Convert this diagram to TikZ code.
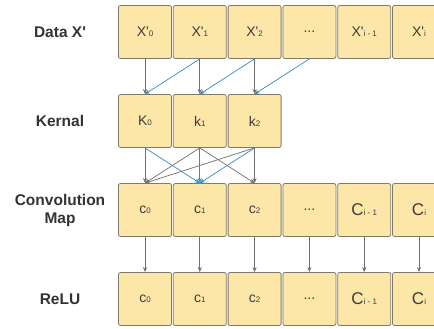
\documentclass[tikz,border=0pt]{standalone}
\usepackage{fontspec}
\setmainfont{Liberation Sans}[Ligatures=TeXOff]
\usetikzlibrary{positioning,arrows.meta}

\definecolor{cellfill}{HTML}{FCE6A8}
\definecolor{celldraw}{HTML}{7E7A6C}
\definecolor{celltext}{HTML}{3C3C3C}
\definecolor{linkgray}{HTML}{6E6E6E}
\definecolor{linkblue}{HTML}{2F8BC8}

\newcommand{\idx}[1]{{\fontsize{8}{8}\selectfont #1}}

\begin{document}
\begin{tikzpicture}
    [x=1pt, y=-1pt,
    node distance=1pt,
    cell/.style={draw=celldraw, fill=cellfill, rounded corners=2pt, line width=0.8pt,
        minimum size=53pt, inner sep=0pt, text=celltext, font=\fontsize{14}{14}\selectfont},
    bigcell/.style={cell, font=\fontsize{17}{17}\selectfont},
    rowname/.style={font=\fontsize{15.5}{18}\selectfont\bfseries, text=black!80, align=center},
    flat/.style={draw=linkgray, line width=0.7pt, -{Stealth[length=5pt,width=4pt]}},
    slant/.style={draw=linkblue, line width=0.7pt, -{Stealth[length=5pt,width=4pt]}}]
    \useasboundingbox (0,0) rectangle (434,329);
    \clip (0,0) rectangle (434,329);

    % row names
    \node [rowname] (nData) at (60,32) {Data X'};
    \node [rowname] (nKern) at (60,121) {Kernal};
    \node [rowname] (nConv) at (60,210) {Convolution\\Map};
    \node [rowname] (nRelu) at (60,299) {ReLU};

    % data
    \node [cell] (x0) at (145,32) {X'\idx{0}};
    \node [cell, right=of x0] (x1) {X'\idx{1}};
    \node [cell, right=of x1] (x2) {X'\idx{2}};
    \node [cell, right=of x2] (x3) {...};
    \node [cell, right=of x3] (x4) {X'\idx{i - 1}};
    \node [cell, right=of x4] (x5) {X'\idx{i}};

    % kernel
    \node [cell] (k0) at (145,121) {K\idx{0}};
    \node [cell, right=of k0] (k1) {k\idx{1}};
    \node [cell, right=of k1] (k2) {k\idx{2}};

    % convolution map
    \node [cell] (c0) at (145,210) {c\idx{0}};
    \node [cell, right=of c0] (c1) {c\idx{1}};
    \node [cell, right=of c1] (c2) {c\idx{2}};
    \node [cell, right=of c2] (c3) {...};
    \node [bigcell, right=of c3] (c4) {C\idx{i - 1}};
    \node [bigcell, right=of c4] (c5) {C\idx{i}};

    % relu
    \node [cell] (r0) at (145,299) {c\idx{0}};
    \node [cell, right=of r0] (r1) {c\idx{1}};
    \node [cell, right=of r1] (r2) {c\idx{2}};
    \node [cell, right=of r2] (r3) {...};
    \node [bigcell, right=of r3] (r4) {C\idx{i - 1}};
    \node [bigcell, right=of r4] (r5) {C\idx{i}};

    % data -> kernel
    \draw [flat] (x0.south) -- (k0.north);
    \draw [flat] (x1.south) -- (k1.north);
    \draw [flat] (x2.south) -- (k2.north);
    \draw [slant] (x1.south) -- (k0.north);
    \draw [slant] (x2.south) -- (k1.north);
    \draw [slant] (x3.south) -- (k2.north);

    % kernel -> map
    \draw [flat] (k0.south) -- (c0.north);
    \draw [flat] (k1.south) -- (c0.north);
    \draw [flat] (k1.south) -- (c2.north);
    \draw [flat] (k2.south) -- (c2.north);
    \draw [flat] (k2.south) -- (c0.north);
    \draw [slant] (k0.south) -- (c1.north);
    \draw [slant] (k1.south) -- (c1.north);
    \draw [slant] (k2.south) -- (c1.north);

    % map -> relu
    \foreach \i in {0,...,5}
        \draw [flat] (c\i.south) -- (r\i.north);
\end{tikzpicture}
\end{document}
